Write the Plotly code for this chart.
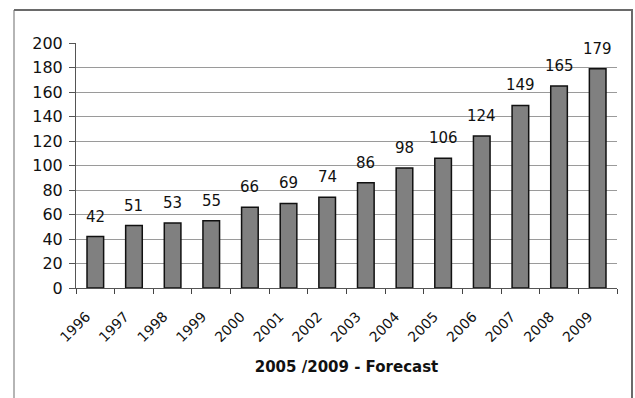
import plotly.graph_objects as go

years = ["1996", "1997", "1998", "1999", "2000", "2001", "2002",
         "2003", "2004", "2005", "2006", "2007", "2008", "2009"]
values = [42, 51, 53, 55, 66, 69, 74, 86, 98, 106, 124, 149, 165, 179]
y_ticks = list(range(0, 201, 20))
x_title = "2005 /2009 - Forecast"

FONT = "DejaVu Sans, Liberation Sans, Arial, sans-serif"

fig = go.Figure()
fig.add_trace(go.Bar(
    x=years, y=values,
    marker=dict(color="#808080", line=dict(color="#111111", width=1.5)),
    hoverinfo="x+y",
))

# data labels: category axis positions given by index
for i, v in enumerate(values):
    fig.add_annotation(x=i, y=v, text=str(v), showarrow=False,
                       yanchor="bottom", yshift=9,
                       font=dict(family=FONT, size=15, color="#111"))

L, R, T, B = 76, 18, 43, 110
W, H = 635, 398
pw, ph = W - L - R, H - T - B

def px_x(x):
    return (x - L) / pw

def px_y(y):
    return (H - B - y) / ph

# outer frame
fig.add_shape(type="line", xref="paper", yref="paper",
              x0=px_x(14), x1=px_x(14), y0=px_y(10), y1=px_y(398),
              line=dict(color="#b5b5b5", width=2))
fig.add_shape(type="line", xref="paper", yref="paper",
              x0=px_x(14), x1=px_x(633), y0=px_y(10), y1=px_y(10),
              line=dict(color="#6a6a6a", width=2))
fig.add_shape(type="line", xref="paper", yref="paper",
              x0=px_x(632), x1=px_x(632), y0=px_y(10), y1=px_y(398),
              line=dict(color="#6a6a6a", width=2))

fig.update_layout(
    width=W, height=H,
    margin=dict(l=L, r=R, t=T, b=B),
    paper_bgcolor="white", plot_bgcolor="white",
    bargap=0.57,
    showlegend=False,
    font=dict(family=FONT, color="#111"),
    xaxis=dict(
        type="category",
        categoryorder="array", categoryarray=years,
        range=[-0.5, len(years) - 0.5],
        tickangle=-45,
        tickfont=dict(family=FONT, size=14, color="#111"),
        ticks="outside", ticklen=5, tickcolor="#444", tickson="boundaries",
        ticklabelstandoff=14, ticklabelshift=-9,
        showline=True, linecolor="#555", linewidth=1,
        showgrid=False,
        title=dict(text="<b>" + x_title + "</b>", standoff=17,
                   font=dict(family=FONT, size=15, color="#111")),
    ),
    yaxis=dict(
        range=[0, 200],
        tickvals=y_ticks,
        tickfont=dict(family=FONT, size=16, color="#111"),
        ticks="outside", ticklen=6, tickcolor="#555",
        showline=True, linecolor="#555", linewidth=1,
        showgrid=True, gridcolor="#9a9a9a", gridwidth=1,
        zeroline=False,
        ticklabelstandoff=3,
    ),
)

fig.write_html("out.html")
